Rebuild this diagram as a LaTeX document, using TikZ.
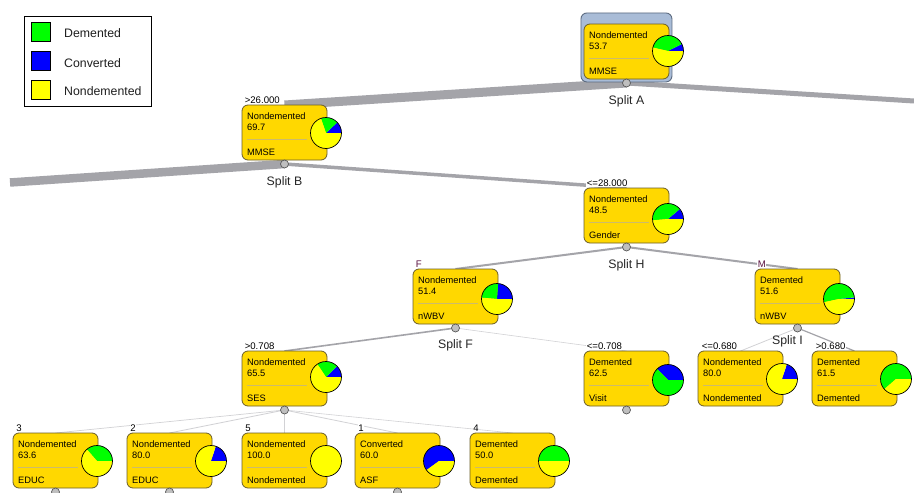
\documentclass[tikz,border=0pt]{standalone}
\usepackage{fontspec}
\setmainfont{Liberation Sans}
\usetikzlibrary{calc,backgrounds}
\definecolor{nodefill}{HTML}{FFD800}
\definecolor{nodeborder}{HTML}{6B5E2A}
\definecolor{sepcol}{HTML}{CDBB6A}
\definecolor{edgecol}{HTML}{A4A4A9}
\definecolor{edgelight}{HTML}{D2D2D5}
\definecolor{pgreen}{HTML}{00FF00}
\definecolor{pblue}{HTML}{0000FF}
\definecolor{pyellow}{HTML}{FFFF00}
\definecolor{rootfill}{HTML}{A9BCD7}
\definecolor{rootborder}{HTML}{5C6B80}
\definecolor{branchcol}{HTML}{5A1040}
\tikzset{
 tbox/.style={draw=nodeborder, fill=nodefill, rounded corners=6pt, minimum width=85pt, minimum height=55pt, inner sep=0pt, outer sep=0pt, line width=0.8pt},
 ttext/.style={inner sep=0pt, font=\fontsize{9.3}{10}\selectfont, text=black},
 elabel/.style={fill=white, inner sep=0.6pt, font=\fontsize{9.6}{10}\selectfont, anchor=base west, text=black},
 splitlabel/.style={inner sep=0pt, font=\fontsize{12.3}{13}\selectfont, text=black!85, anchor=base},
 splitdot/.style={circle, draw=black!65, fill=black!25, minimum size=8pt, inner sep=0pt, line width=0.7pt},
 conn/.style={draw=edgecol, line cap=butt},
 connlight/.style={draw=edgelight, line cap=butt},
 legsq/.style={draw=black, line width=1pt, minimum size=19pt, inner sep=0pt},
 legtext/.style={inner sep=0pt, font=\fontsize{12.3}{13}\selectfont, text=black!88, anchor=base west},
 rootframe/.style={draw=rootborder, fill=rootfill, rounded corners=6pt, line width=0.9pt, inner sep=0pt},
}
\newcommand\treenode[8]{%
 \node[tbox, anchor=north west] (#1) at (#2,#3) {};
 \node[ttext, anchor=base west] (#1a) at ($(#1.north west)+(5,14)$) {#4};
 \node[ttext, anchor=base west] (#1b) at ($(#1.north west)+(5,25.5)$) {#5};
 \node[ttext, anchor=base west] (#1d) at ($(#1.north west)+(5,50)$) {#6};
 \draw[sepcol, line width=0.8pt] ($(#1.north west)+(5,34)$) -- ($(#1.north west)+(65,34)$);
 \coordinate (#1p) at ($(#1.north west)+(84,#7)$);
 \foreach \aa/\bb/\cc in {#8} {\fill[\cc] (#1p) -- ++(\aa:15.5pt) arc[start angle=\aa, end angle=\bb, radius=15.5pt] -- cycle;}
 \draw[black, line width=0.7pt] (#1p) circle[radius=15.5pt];
}
\begin{document}
\begin{tikzpicture}[x=1pt,y=-1pt]
\useasboundingbox (0,0) rectangle (914,493);
% legend
\node[draw=black, line width=1.2pt, anchor=north west, minimum width=127.5pt, minimum height=90pt, inner sep=0pt] (leg) at (23.5,16) {};
\node[legsq, fill=pgreen] (lg1) at (41.3,31.7) {};
\node[legsq, fill=pblue] (lg2) at (41.3,60.7) {};
\node[legsq, fill=pyellow] (lg3) at (41.3,90) {};
\node[legtext] (lt1) at (64,37) {Demented};
\node[legtext] (lt2) at (64,67) {Converted};
\node[legtext] (lt3) at (64,95.5) {Nondemented};
% root frame
\node[rootframe, anchor=north west, minimum width=91pt, minimum height=69pt] (Aframe) at (580.5,12.5) {};
% nodes
\treenode{A}{584}{24}{Nondemented}{53.7}{MMSE}{27}{0/27/pblue,27/167/pgreen,167/360/pyellow}
\treenode{B}{242}{105}{Nondemented}{69.7}{MMSE}{28}{0/43/pblue,43/109/pgreen,109/360/pyellow}
\treenode{H}{584}{188}{Nondemented}{48.5}{Gender}{31}{0/40/pblue,40/185/pgreen,185/360/pyellow}
\treenode{F}{413}{269}{Nondemented}{51.4}{nWBV}{30}{0/86/pblue,86/175/pgreen,175/360/pyellow}
\treenode{M}{755}{269}{Demented}{51.6}{nWBV}{30}{0/6/pblue,6/192/pgreen,192/360/pyellow}
\treenode{S}{242}{351}{Nondemented}{65.5}{SES}{26}{0/45/pblue,45/124/pgreen,124/360/pyellow}
\treenode{V}{584}{351}{Demented}{62.5}{Visit}{29}{0/135/pblue,135/360/pgreen}
\treenode{L}{698}{351}{Nondemented}{80.0}{Nondemented}{28}{0/72/pblue,72/360/pyellow}
\treenode{R}{812}{351}{Demented}{61.5}{Demented}{28}{0/221/pgreen,221/360/pyellow}
\treenode{NC}{13}{433}{Nondemented}{63.6}{EDUC}{28}{0/131/pgreen,131/360/pyellow}
\treenode{NB}{127}{433}{Nondemented}{80.0}{EDUC}{28}{0/72/pblue,72/360/pyellow}
\treenode{NE}{242}{433}{Nondemented}{100.0}{Nondemented}{28}{0/360/pyellow}
\treenode{NA}{355}{433}{Converted}{60.0}{ASF}{28}{0/216/pblue,216/360/pyellow}
\treenode{ND}{470}{433}{Demented}{50.0}{Demented}{28}{0/180/pgreen,180/360/pyellow}
% split dots
\node[splitdot] (Ac) at ($(A.south)+(0,4)$) {};
\node[splitdot] (Bc) at ($(B.south)+(0,4)$) {};
\node[splitdot] (Hc) at ($(H.south)+(0,4)$) {};
\node[splitdot] (Fc) at ($(F.south)+(0,4)$) {};
\node[splitdot] (Mc) at ($(M.south)+(0,4)$) {};
\node[splitdot] (Sc) at ($(S.south)+(0,4)$) {};
\node[splitdot] (Vc) at ($(V.south)+(0,4)$) {};
\node[splitdot] (NCc) at ($(NC.south)+(0,4)$) {};
\node[splitdot] (NBc) at ($(NB.south)+(0,4)$) {};
\node[splitdot] (NAc) at ($(NA.south)+(0,4)$) {};
% split labels
\node[splitlabel] (Al) at ($(Ac)+(0,21.5)$) {Split A};
\node[splitlabel] (Bl) at ($(Bc)+(0,21)$) {Split B};
\node[splitlabel] (Hl) at ($(Hc)+(0,21)$) {Split H};
\node[splitlabel] (Fl) at ($(Fc)+(0,20)$) {Split F};
\node[splitlabel] (Ml) at ($(Mc)+(-10,16)$) {Split I};
% free ends
\coordinate (Aright) at (914,101);
\coordinate (Bleft) at (10,182.5);
% branch labels
\node[elabel] (Be) at ($(B.north west)+(2,-2)$) {>26.000};
\node[elabel] (He) at ($(H.north west)+(2,-2)$) {<=28.000};
\node[elabel, text=branchcol] (Fe) at ($(F.north west)+(2,-2)$) {F};
\node[elabel, text=branchcol] (Me) at ($(M.north west)+(2,-2)$) {M};
\node[elabel] (Se) at ($(S.north west)+(2,-2)$) {>0.708};
\node[elabel] (Ve) at ($(V.north west)+(2,-2)$) {<=0.708};
\node[elabel] (Le) at ($(L.north west)+(3,-2)$) {<=0.680};
\node[elabel] (Re) at ($(R.north west)+(3,-2)$) {>0.680};
\node[elabel] (NCe) at ($(NC.north west)+(2.5,-2)$) {3};
\node[elabel] (NBe) at ($(NB.north west)+(2.5,-2)$) {2};
\node[elabel] (NEe) at ($(NE.north west)+(2.5,-2)$) {5};
\node[elabel] (NAe) at ($(NA.north west)+(2.5,-2)$) {1};
\node[elabel] (NDe) at ($(ND.north west)+(2.5,-2)$) {4};
% connectors
\begin{pgfonlayer}{background}
\fill[white] (0,0) rectangle (914,493);
\draw[conn, line width=9pt] (Ac.center) -- (B.north);
\draw[conn, line width=5pt] (Ac.center) -- (Aright);
\draw[conn, line width=8.5pt] (Bc.center) -- (Bleft);
\draw[conn, line width=3.5pt] (Bc.center) -- (H.north);
\draw[conn, line width=2pt] (Hc.center) -- (F.north);
\draw[conn, line width=2pt] (Hc.center) -- (M.north);
\draw[conn, line width=1.6pt] (Fc.center) -- (S.north);
\draw[connlight, line width=0.6pt] (Fc.center) -- (V.north);
\draw[connlight, line width=0.8pt] (Mc.center) -- (L.north);
\draw[conn, line width=1.2pt] (Mc.center) -- (R.north);
\draw[connlight, line width=0.7pt] (Sc.center) -- (NC.north);
\draw[connlight, line width=0.8pt] (Sc.center) -- (NB.north);
\draw[connlight, line width=0.6pt] (Sc.center) -- (NE.north);
\draw[connlight, line width=0.8pt] (Sc.center) -- (NA.north);
\draw[connlight, line width=0.6pt] (Sc.center) -- (ND.north);
\end{pgfonlayer}
\end{tikzpicture}
\end{document}
